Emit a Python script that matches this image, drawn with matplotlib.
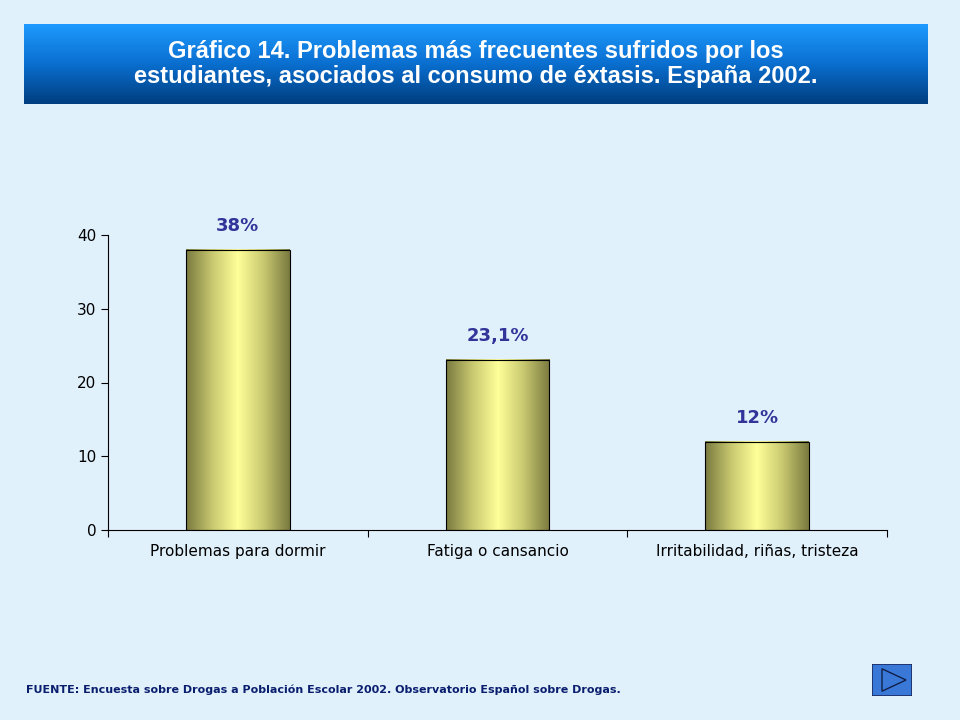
import numpy as np
import matplotlib
matplotlib.use("Agg")
import matplotlib.pyplot as plt
from matplotlib.colors import LinearSegmentedColormap
from matplotlib.patches import Rectangle, Polygon

categories = ["Problemas para dormir", "Fatiga o cansancio", "Irritabilidad, riñas, tristeza"]
values = [38, 23.1, 12]
labels = ["38%", "23,1%", "12%"]
yticks = [0, 10, 20, 30, 40]

bg = "#E1F1FC"
fig = plt.figure(figsize=(9.6, 7.2), dpi=100, facecolor=bg)

# Title box with vertical gradient
tax = fig.add_axes([24/960, 1-104/720, 904/960, 80/720])
grad = np.linspace(0, 1, 100).reshape(-1, 1)
tcmap = LinearSegmentedColormap.from_list("t", ["#1E9BFF", "#0A6FD0", "#003E80"])
tax.imshow(grad, aspect="auto", cmap=tcmap, extent=[0, 1, 0, 1], origin="upper")
tax.set_axis_off()
tax.text(0.5, 0.5, "Gráfico 14. Problemas más frecuentes sufridos por los\nestudiantes, asociados al consumo de éxtasis. España 2002.",
         ha="center", va="center", color="white", fontsize=17, fontweight="bold",
         family="Liberation Sans", linespacing=1.15, transform=tax.transAxes)

ax = fig.add_axes([108/960, 1-530/720, (887-108)/960, (530-235)/720])
ax.set_facecolor(bg)
ax.patch.set_alpha(0)
x = np.arange(len(categories))
w = 0.4
bcmap = LinearSegmentedColormap.from_list("b", ["#7A7A40", "#C8C870", "#FFFF99", "#C8C870", "#7A7A40"])
hgrad = np.linspace(0, 1, 200).reshape(1, -1)
bars = ax.bar(x, values, width=w, color="none", edgecolor="black", linewidth=0.8, zorder=3)
for b in bars:
    x0, y0, bw, bh = b.get_x(), b.get_y(), b.get_width(), b.get_height()
    im = ax.imshow(hgrad, aspect="auto", cmap=bcmap, extent=[x0, x0+bw, y0, y0+bh], zorder=2)
for xi, v, l in zip(x, values, labels):
    ax.text(xi, v + 2, l, ha="center", va="bottom", color="#333399", fontsize=13, fontweight="bold")
ax.set_xlim(-0.5, 2.5)
ax.set_ylim(0, 40)
ax.set_yticks(yticks)
ax.set_xticks([-0.5, 0.5, 1.5, 2.5])
ax.set_xticks(x, minor=True)
ax.set_xticklabels([])
ax.set_xticklabels(categories, minor=True)
ax.tick_params(axis="x", which="minor", length=0, labelsize=11, pad=10)
ax.tick_params(axis="x", which="major", length=5, direction="out")
ax.tick_params(axis="y", labelsize=11, length=5)
for s in ["top", "right"]:
    ax.spines[s].set_visible(False)

fig.text(26/960, 1-690/720, "FUENTE: Encuesta sobre Drogas a Población Escolar 2002. Observatorio Español sobre Drogas.",
         color="#0A1E6E", fontsize=8, fontweight="bold", va="center", family="DejaVu Sans")

# navigation button
bax = fig.add_axes([872/960, 1-696/720, 40/960, 32/720])
bax.set_xlim(0, 1); bax.set_ylim(0, 1); bax.set_axis_off()
bax.add_patch(Rectangle((0, 0), 1, 1, facecolor="#3A78D8", edgecolor="#1A2A60", linewidth=1.2))
bax.add_patch(Polygon([[0.25, 0.15], [0.25, 0.85], [0.85, 0.5]], closed=True, facecolor="#3A78D8", edgecolor="#10204A", linewidth=1))

fig.savefig("out.png", dpi=100, facecolor=bg)
